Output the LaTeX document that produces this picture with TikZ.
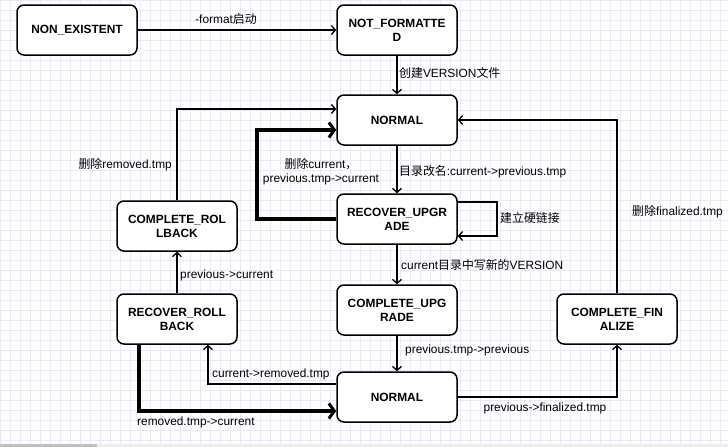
\documentclass[tikz,border=0pt]{standalone}
\usepackage{fontspec}
\setmainfont{Liberation Sans}
\newfontfamily\zhfont{Noto Sans CJK SC}
\newcommand\zh[1]{{\zhfont #1}}
\usetikzlibrary{arrows.meta}
\definecolor{gridc}{RGB}{234,232,248}
\definecolor{barc}{RGB}{238,238,238}
\begin{document}
\begin{tikzpicture}[x=1pt,y=-1pt,
 state/.style={draw, line width=1.5pt, rounded corners=7pt, minimum width=120pt, minimum height=50pt, font=\bfseries\fontsize{11.9}{14}\selectfont, align=center, inner sep=0pt, fill=white},
 conn/.style={draw, line width=1.3pt, -{Straight Barb[length=4pt,width=9pt,line width=1.3pt]}},
 thickconn/.style={draw, line width=3.5pt, -{Straight Barb[length=5.5pt,width=15pt,line width=3pt]}},
 lbl/.style={font=\fontsize{11.9}{14}\selectfont, inner sep=1pt}]
\useasboundingbox (0,0) rectangle (728,447);
\fill[white] (0,0) rectangle (728,447);
\foreach \i in {0,10,...,720} \draw[gridc, line width=0.6pt] (\i,0) -- (\i,444);
\foreach \j in {0,10,...,440} \draw[gridc, line width=0.6pt] (0,\j) -- (728,\j);
\fill[barc] (0,444) rectangle (728,447);
\fill[black!25] (0,444) rectangle (97,447);

\node[state] (ne) at (77,30) {NON\_EXISTENT};
\node[state] (nf) at (397,30) {NOT\_FORMATTE\\D};
\node[state] (n1) at (397,120) {NORMAL};
\node[state] (ru) at (397,219) {RECOVER\_UPGR\\ADE};
\node[state] (cu) at (397,310) {COMPLETE\_UPG\\RADE};
\node[state] (n2) at (397,397) {NORMAL};
\node[state] (cr) at (177,226) {COMPLETE\_ROL\\LBACK};
\node[state] (rr) at (177,319) {RECOVER\_ROLL\\BACK};
\node[state] (cf) at (617,319) {COMPLETE\_FIN\\ALIZE};

\draw[conn] (ne) -- (nf);
\node[lbl] (l1) at (226,19) {-format\zh{启动}};
\draw[conn] (nf) -- (n1);
\node[lbl, anchor=west] (l2) at (398,73) {\zh{创建}VERSION\zh{文件}};
\draw[conn] (n1) -- (ru);
\node[lbl, anchor=west] (l3) at (398,172) {\zh{目录改名}:current->previous.tmp};
\draw[conn] (ru.east |- 0,202) -- (497,202) -- (497,236) -- (ru.east |- 0,236);
\node[lbl, anchor=west] (l4) at (499,218) {\zh{建立硬链接}};
\draw[thickconn] (ru.west) -- (257,219) -- (257,130) -- (n1.west |- 0,130);
\node[lbl, align=center] (l5) at (321,172) {\zh{删除}current\zh{，}\\previous.tmp->current};
\draw[conn] (ru) -- (cu);
\node[lbl, anchor=west] (l6) at (400,265) {current\zh{目录中写新的}VERSION};
\draw[conn] (cu) -- (n2);
\node[lbl, anchor=west] (l7) at (404,350) {previous.tmp->previous};
\draw[conn] (n2.east) -- (617,397) -- (cf.south);
\node[lbl] (l8) at (545,408) {previous->finalized.tmp};
\draw[conn] (cf.north) -- (617,120) -- (n1.east);
\node[lbl, anchor=west] (l9) at (631,212) {\zh{删除}finalized.tmp};
\draw[conn] (n2.west |- 0,384) -- (208,384) -- (rr.south -| 208,0);
\node[lbl, anchor=west] (l10) at (211,374) {current->removed.tmp};
\draw[thickconn] (rr.south -| 139,0) -- (139,411) -- (n2.west |- 0,411);
\node[lbl, anchor=west] (l11) at (136,422) {removed.tmp->current};
\draw[conn] (rr) -- (cr);
\node[lbl, anchor=west] (l12) at (179,275) {previous->current};
\draw[conn] (cr.north) -- (177,109) -- (n1.west |- 0,109);
\node[lbl, anchor=east] (l13) at (173,165) {\zh{删除}removed.tmp};
\end{tikzpicture}
\end{document}
